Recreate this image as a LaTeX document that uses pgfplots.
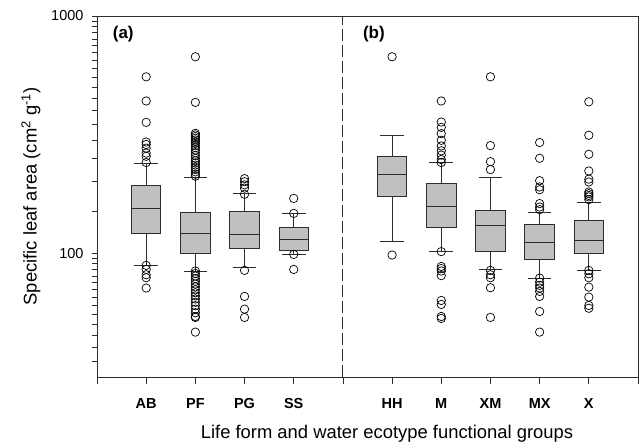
\documentclass[border=0pt]{standalone}
\usepackage{fontspec}
\setmainfont{Liberation Sans}
\usepackage{pgfplots}
\pgfplotsset{compat=1.18}
\definecolor{boxgray}{RGB}{192,192,192}
\definecolor{linegray}{RGB}{45,45,45}
\pgfplotsset{
  boxline/.style={draw=linegray, line width=0.9pt, mark=none, solid},
  outl/.style={only marks, mark=o, mark size=4.2pt, mark options={draw=black, fill=none, solid, line width=0.7pt}},
}
% position, lower whisker, lower quartile, median, upper quartile, upper whisker
\newcommand{\bp}[6]{%
  \pgfmathsetmacro\bxl{#1-0.3}\pgfmathsetmacro\bxr{#1+0.3}%
  \pgfmathsetmacro\bcl{#1-0.24}\pgfmathsetmacro\bcr{#1+0.24}%
  \addplot[boxline] coordinates {(#1,#2) (#1,#3)};
  \addplot[boxline] coordinates {(#1,#5) (#1,#6)};
  \addplot[boxline] coordinates {(\bcl,#2) (\bcr,#2)};
  \addplot[boxline] coordinates {(\bcl,#6) (\bcr,#6)};
  \addplot[boxline, fill=boxgray] coordinates {(\bxl,#3) (\bxr,#3) (\bxr,#5) (\bxl,#5)} -- cycle;
  \addplot[boxline] coordinates {(\bxl,#4) (\bxr,#4)};
}
\begin{document}
\fontsize{14.5}{17}\selectfont
\begin{tikzpicture}
\begin{axis}[
  scale only axis, width=541pt, height=361pt,
  ymode=log, ymin=30, ymax=1000, xmin=0, xmax=11,
  axis line style={linegray, line width=0.9pt},
  every tick/.style={linegray, line width=0.8pt},
  tick align=outside, xtick pos=bottom, ytick pos=left,
  major tick length=4.5pt, minor tick length=4.5pt,
  xtick style={/pgfplots/major tick length=7pt},
  xtick={0,...,11},
  xticklabels={,AB,PF,PG,SS,,HH,M,XM,MX,X,},
  ytick={100,1000}, yticklabels={100,1000},
  minor ytick={35,40,45,50,55,60,65,70,75,80,85,90,95,150,200,250,300,350,400,450,500,550,600,650,700,750,800,850,900,950},
  xticklabel style={font=\bfseries, yshift=-12pt},
  yticklabel style={xshift=-4pt},
  /pgf/number format/assume math mode=true,
  xlabel={Life form and water ecotype functional groups},
  ylabel={Specific leaf area (cm\textsuperscript{2} g\textsuperscript{-1})},
  label style={font=\fontsize{18.4}{22}\selectfont},
  xlabel style={at={(axis description cs:0.536,-0.158)}, anchor=center},
  ylabel style={at={(axis description cs:-0.122,0.5)}, anchor=center},
  clip=false,
]
% AB
\bp{1}{88.7}{121}{154}{193}{239}
\addplot[outl] coordinates {(1,554) (1,438) (1,356) (1,294) (1,287) (1,277) (1,264) (1,256) (1,241) (1,88.7) (1,85.3) (1,81) (1,78.7) (1,71.2)};
% PF
\bp{2}{84}{100}{121}{149}{209}
\addplot[outl] coordinates {(2,673) (2,432) (2,320) (2,315) (2,310) (2,305) (2,300) (2,295) (2,290) (2,284) (2,278) (2,272) (2,265) (2,258) (2,251) (2,245) (2,240) (2,235) (2,230) (2,225) (2,220) (2,215) (2,211)
   (2,84) (2,82) (2,80) (2,78) (2,76) (2,74) (2,72) (2,70) (2,68) (2,66) (2,64) (2,62) (2,60) (2,58) (2,56) (2,54) (2,53.5) (2,46.4)};
% PG
\bp{3}{87}{104.4}{120}{150.5}{178}
\addplot[outl] coordinates {(3,206) (3,200) (3,194) (3,188) (3,177) (3,84.5) (3,65.6) (3,58) (3,53.5)};
% SS
\bp{4}{98.7}{102.7}{114.2}{128.8}{147}
\addplot[outl] coordinates {(4,170) (4,147) (4,98.7) (4,85.3)};
% HH
\bp{6}{111.7}{172.5}{213.6}{255}{314}
\addplot[outl] coordinates {(6,673) (6,98.1)};
% M
\bp{7}{101.4}{128}{158}{197}{241}
\addplot[outl] coordinates {(7,438) (7,357) (7,339) (7,319) (7,299) (7,283) (7,270) (7,259) (7,248) (7,241) (7,101.4) (7,87.8) (7,86) (7,84) (7,80.3) (7,63.1) (7,60.7) (7,54) (7,53)};
% XM
\bp{8}{85.3}{101.4}{131}{151}{208}
\addplot[outl] coordinates {(8,554) (8,284) (8,243) (8,225) (8,84.5) (8,81) (8,78.7) (8,71.4) (8,53.5)};
% MX
\bp{9}{78.4}{94}{110.6}{131.8}{148.6}
\addplot[outl] coordinates {(9,292.6) (9,251) (9,202) (9,190) (9,185) (9,161.7) (9,156.4) (9,152.5) (9,78.4) (9,75.4) (9,73.1) (9,71.2) (9,68.9) (9,65.6) (9,56.7) (9,46.4)};
% X
\bp{10}{84.5}{100}{113.5}{137}{163}
\addplot[outl] coordinates {(10,434.5) (10,314) (10,261) (10,222) (10,205) (10,199.5) (10,181) (10,178) (10,175) (10,172.5) (10,168) (10,84.5) (10,81.8) (10,78.7) (10,71.8) (10,65.2) (10,60.1) (10,58.5)};
% divider
\addplot[linegray, line width=0.9pt, dash pattern=on 12pt off 4pt, mark=none] coordinates {(5,30) (5,1000)};
\node[font=\fontsize{17}{20}\selectfont\bfseries, anchor=west] at (rel axis cs:0.02,0.95) {(a)};
\node[font=\fontsize{17}{20}\selectfont\bfseries, anchor=west] at (rel axis cs:0.4825,0.95) {(b)};
\end{axis}
\pgfresetboundingbox
\path (current axis.south west) ++(-97pt,-66pt) rectangle ([shift={(1pt,16pt)}]current axis.north east);
\end{tikzpicture}
\end{document}
